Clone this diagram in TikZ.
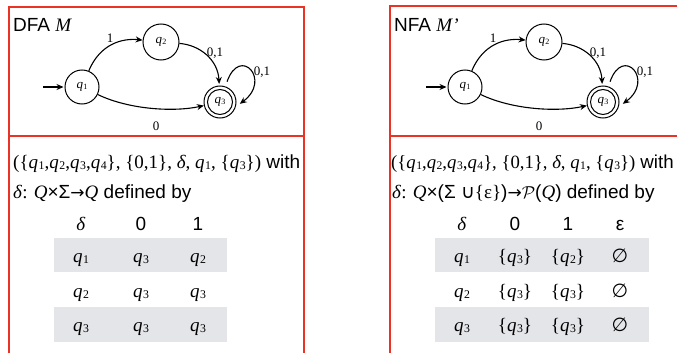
\documentclass[tikz,border=0pt]{standalone}
\usepackage{fontspec}
\setmainfont{Liberation Serif}
\setsansfont{Liberation Sans}
\newfontfamily\djv{DejaVu Sans}
\usepackage{graphicx}
\usetikzlibrary{arrows.meta}
\definecolor{boxred}{RGB}{234,51,36}
\definecolor{rowgray}{RGB}{228,229,233}
\newcommand\qsub[1]{\textit{q}\kern0.03em\raisebox{-0.1em}{\scalebox{0.62}{#1}}}
\newcommand\myarrow{{\djv\fontsize{17}{20}\selectfont→}}
\newcommand\drawaut[1]{%
  \node[st, minimum size=34pt] (#1q1) at (82,87) {\qsub1};
  \node[st, minimum size=36pt] (#1q2) at (161,42) {\qsub2};
  \node[st, minimum size=32pt] (#1q3) at (220,102) {\qsub3};
  \draw[line width=1pt] (#1q3.center) circle (12.5pt);
  \coordinate (#1s) at (43,87);
  \draw[arr, shorten >=1pt] (#1s) -- (#1q1);
  \draw[arr] (#1q1) .. controls (100,44) and (122,38) .. (#1q2);
  \draw[arr, shorten >=1.5pt] (#1q2) .. controls (200,45) and (218,60) .. (#1q3);
  \draw[arr] (#1q1) .. controls (130,110) and (175,112) .. (#1q3);
  \draw[arr, shorten <=5pt, shorten >=5pt] (#1q3.71) .. controls (240,45) and (272,80) .. (#1q3.-17);
  \node[elab] (#1l1) at (110,38) {1};
  \node[elab] (#1l2) at (215,53) {0,1};
  \node[elab] (#1l3) at (262,72) {0,1};
  \node[elab] (#1l4) at (156,126) {0};
}
\begin{document}
\begin{tikzpicture}[x=1pt,y=-1pt,
  st/.style={circle, draw, line width=1pt, inner sep=0pt, font=\fontsize{13}{13}\selectfont},
  elab/.style={font=\fontsize{13}{13}\selectfont, inner sep=0pt},
  arr/.style={-{Stealth[length=7pt,width=6pt]}, line width=1.1pt},
  txt/.style={font=\sffamily\fontsize{19}{22}\selectfont, inner sep=0pt, anchor=base west},
  cell/.style={font=\fontsize{19}{22}\selectfont, inner sep=0pt, anchor=base},
  redline/.style={draw=boxred, line width=1.6pt}]
\useasboundingbox (0,0) rectangle (677,353);
% boxes
\draw[redline] (9,360) -- (9,7) -- (304,7) -- (304,360);
\draw[redline] (9,136) -- (304,136);
\draw[redline] (390,360) -- (390,6) -- (690,6);
\draw[redline] (390,136) -- (690,136);
% gray rows
\fill[rowgray] (54,238) rectangle (227,272);
\fill[rowgray] (54,307) rectangle (227,342);
\fill[rowgray] (435,238) rectangle (649,272);
\fill[rowgray] (435,307) rectangle (649,342);
% titles
\node[txt] (t1) at (13,32) {DFA {\rmfamily\itshape M}};
\node[txt] (t2) at (394,32) {NFA {\rmfamily\itshape M’}};
% automata
\drawaut{a}
\begin{scope}[xshift=383pt]
\drawaut{b}
\end{scope}
% left text
\node[txt] (d1) at (13,168) {{\rmfamily(\{\qsub1,\qsub2,\qsub3,\qsub4\}, \{0,1\}, \textit{δ}, \qsub1, \{\qsub3\})} with};
\node[txt] (d2) at (13,198) {{\rmfamily\textit{δ}: \textit{Q}}×Σ\myarrow{\rmfamily\textit{Q}} defined by};
% left table
\node[cell] (lh0) at (81,230) {\textit{δ}};
\node[cell] (lh1) at (141,230) {\sffamily 0};
\node[cell] (lh2) at (198,230) {\sffamily 1};
\node[cell] (la0) at (81,262) {\qsub1};
\node[cell] (la1) at (141,262) {\qsub3};
\node[cell] (la2) at (198,262) {\qsub2};
\node[cell] (lb0) at (81,297) {\qsub2};
\node[cell] (lb1) at (141,297) {\qsub3};
\node[cell] (lb2) at (198,297) {\qsub3};
\node[cell] (lc0) at (81,331) {\qsub3};
\node[cell] (lc1) at (141,331) {\qsub3};
\node[cell] (lc2) at (198,331) {\qsub3};
% right text
\node[txt, font=\sffamily\fontsize{18.7}{22}\selectfont] (n1) at (391,168) {{\rmfamily(\{\qsub1,\qsub2,\qsub3,\qsub4\}, \{0,1\}, \textit{δ}, \qsub1, \{\qsub3\})} with};
\node[txt] (n2) at (392,198) {{\rmfamily\textit{δ}: \textit{Q}}×(Σ {\djv∪}{\rmfamily\{ε\}})\myarrow$\mathcal{P}$({\rmfamily\itshape Q}) defined by};
% right table
\node[cell] (rh0) at (462,230) {\textit{δ}};
\node[cell] (rh1) at (515,230) {\sffamily 0};
\node[cell] (rh2) at (568,230) {\sffamily 1};
\node[cell] (rh3) at (620,230) {\sffamily ε};
\node[cell] (ra0) at (462,262) {\qsub1};
\node[cell] (ra1) at (515,262) {\{\qsub3\}};
\node[cell] (ra2) at (568,262) {\{\qsub2\}};
\node[cell] (ra3) at (620,262) {\djv ∅};
\node[cell] (rb0) at (462,297) {\qsub2};
\node[cell] (rb1) at (515,297) {\{\qsub3\}};
\node[cell] (rb2) at (568,297) {\{\qsub3\}};
\node[cell] (rb3) at (620,297) {\djv ∅};
\node[cell] (rc0) at (462,331) {\qsub3};
\node[cell] (rc1) at (515,331) {\{\qsub3\}};
\node[cell] (rc2) at (568,331) {\{\qsub3\}};
\node[cell] (rc3) at (620,331) {\djv ∅};
\end{tikzpicture}
\end{document}
